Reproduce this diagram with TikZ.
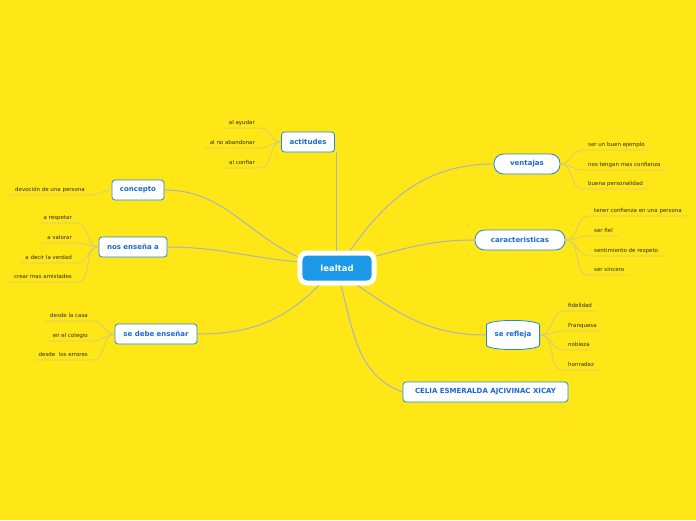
\documentclass[tikz,border=0pt]{standalone}
\usepackage{fontspec}
\setmainfont{DejaVu Sans}
\usetikzlibrary{positioning, backgrounds}
\definecolor{bgcolor}{RGB}{255,230,23}
\definecolor{topicblue}{RGB}{30,136,229}
\definecolor{textblue}{RGB}{25,105,210}
\definecolor{centralblue}{RGB}{28,152,232}
\definecolor{linkcolor}{RGB}{172,180,188}
\definecolor{twigcolor}{RGB}{214,204,112}
\definecolor{leaftext}{RGB}{45,45,25}

\begin{document}
\begin{tikzpicture}[
    x=1pt, y=1pt,
    topic/.style={draw=topicblue, line width=0.8pt, fill=white, rounded corners=3pt, text=textblue, font=\fontsize{7}{8}\selectfont\bfseries, minimum height=20pt, inner sep=0pt},
    pill/.style={topic, rounded corners=9.5pt},
    barrel/.style={topic, draw=none, fill=none},
    central/.style={draw=white, line width=5pt, fill=centralblue, rounded corners=7pt, text=white, font=\fontsize{8.5}{10}\selectfont\bfseries, minimum width=74pt, minimum height=30pt},
    leafl/.style={anchor=south east, font=\fontsize{5.5}{6.5}\selectfont, text=leaftext, inner xsep=5pt, inner ysep=2.3pt, text depth=1.2pt},
    leafr/.style={leafl, anchor=south west},
    link/.style={draw=linkcolor, line width=1pt},
    twig/.style={draw=twigcolor, line width=0.8pt}
]
    \begin{scope}[on background layer]
        \fill[bgcolor] (-337,268) rectangle (359,-252);
    \end{scope}

    % main topics
    \node[central] (lealtad) at (0,0) {lealtad};
    \node[topic, minimum width=53pt] (actitudes) at (-29,126) {actitudes};
    \node[topic, minimum width=52pt] (concepto) at (-199,78) {concepto};
    \node[topic, minimum width=68pt] (ensena) at (-204,21) {nos enseña a};
    \node[topic, minimum width=82pt] (debe) at (-181,-66) {se debe enseñar};
    \node[pill, minimum width=66pt] (ventajas) at (190,104) {ventajas};
    \node[pill, minimum width=90pt] (caract) at (183,28) {caracteristicas};
    \node[barrel, minimum width=54pt, minimum height=29pt] (refleja) at (176,-67) {se refleja};
    \node[topic, minimum width=165pt] (celia) at (148.5,-124) {CELIA ESMERALDA AJCIVINAC XICAY};

    % barrel outline behind "se refleja"
    \begin{scope}[on background layer, shift={(refleja.center)}]
        \draw[topicblue, fill=white, line width=0.8pt]
            (-26.6,10) -- (-26.6,-10)
            .. controls (-26.6,-13) and (-12,-14.6) .. (0,-14.6)
            .. controls (12,-14.6) and (26.6,-13) .. (26.6,-10)
            -- (26.6,10)
            .. controls (26.6,13) and (12,14.6) .. (0,14.6)
            .. controls (-12,14.6) and (-26.6,13) .. (-26.6,10) -- cycle;
    \end{scope}

    % leaves
    \node[leafl] (act1) at (-77,140) {al ayudar};
    \node[leafl] (act2) at (-77,120) {al no abandonar};
    \node[leafl] (act3) at (-77,100) {al confiar};
    \node[leafl] (con1) at (-247,73) {devoción de una persona};
    \node[leafl] (ens1) at (-260,45) {a respetar};
    \node[leafl] (ens2) at (-260,25) {a valorar};
    \node[leafl] (ens3) at (-260,5) {a decir la verdad};
    \node[leafl] (ens4) at (-260,-14) {crear mas amistades};
    \node[leafl] (deb1) at (-244,-53) {desde la casa};
    \node[leafl] (deb2) at (-244,-73) {en el colegio};
    \node[leafl] (deb3) at (-244,-92) {desde\ \ los errores};
    \node[leafr] (ven1) at (246,118) {ser un buen ejemplo};
    \node[leafr] (ven2) at (246,98) {nos tengan mas confianza};
    \node[leafr] (ven3) at (246,79) {buena personalidad};
    \node[leafr] (car1) at (252,52) {tener confianza en una persona};
    \node[leafr] (car2) at (252,32) {ser fiel};
    \node[leafr] (car3) at (252,12) {sentimiento de respeto};
    \node[leafr] (car4) at (252,-7) {ser sincero};
    \node[leafr] (ref1) at (226,-43) {fidelidad};
    \node[leafr] (ref2) at (226,-63) {Franquesa};
    \node[leafr] (ref3) at (226,-82) {nobleza};
    \node[leafr] (ref4) at (226,-102) {honradez};

    % links from the centre
    \draw[link] (lealtad.north) -- (lealtad.north |- actitudes.south);
    \draw[link] (lealtad.164) to[out=155, in=0] (concepto.east);
    \draw[link] (lealtad.171) to[out=175, in=0] (ensena.east);
    \draw[link] (lealtad.224) to[out=225, in=0] (debe.east);
    \draw[link] (lealtad.53) to[out=55, in=180] (ventajas.west);
    \draw[link] (lealtad.17) to[out=15, in=180] (caract.west);
    \draw[link] (lealtad.320) to[out=-35, in=180] (refleja.west);
    \draw[link] (lealtad.283) to[out=-75, in=160] (celia.west);

    % twigs to the leaves
    \foreach \l in {act1,act2,act3}
        \draw[twig] (actitudes.west) to[out=180, in=0] (\l.south east) -- (\l.south west);
    \draw[twig] (concepto.west) to[out=180, in=0] (con1.south east) -- (con1.south west);
    \foreach \l in {ens1,ens2,ens3,ens4}
        \draw[twig] (ensena.west) to[out=180, in=0] (\l.south east) -- (\l.south west);
    \foreach \l in {deb1,deb2,deb3}
        \draw[twig] (debe.west) to[out=180, in=0] (\l.south east) -- (\l.south west);
    \foreach \l in {ven1,ven2,ven3}
        \draw[twig] (ventajas.east) to[out=0, in=180] (\l.south west) -- (\l.south east);
    \foreach \l in {car1,car2,car3,car4}
        \draw[twig] (caract.east) to[out=0, in=180] (\l.south west) -- (\l.south east);
    \foreach \l in {ref1,ref2,ref3,ref4}
        \draw[twig] (refleja.east) to[out=0, in=180] (\l.south west) -- (\l.south east);
\end{tikzpicture}
\end{document}
